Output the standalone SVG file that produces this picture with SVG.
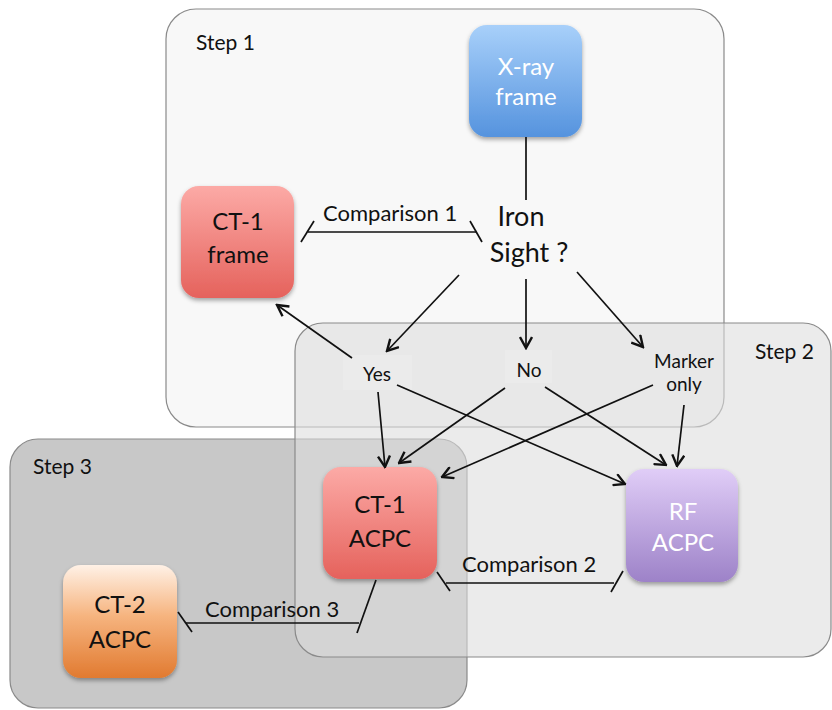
<svg xmlns="http://www.w3.org/2000/svg" width="832" height="710" viewBox="0 0 832 710">
<defs>
<style>
.step{stroke:#8a8a8a;stroke-width:1.2}
.lbl{font-family:Lato,"Open Sans","Liberation Sans",sans-serif;fill:#111}
.nd{font-family:Lato,"Open Sans","Liberation Sans",sans-serif;font-size:24px;text-anchor:middle}
.w{fill:#fff}
.k{fill:#111}
.ln{stroke:#111;stroke-width:1.7;fill:none}
.ar{marker-end:url(#arr)}
</style>
<marker id="arr" viewBox="0 0 14 14" markerWidth="14" markerHeight="14" refX="12.5" refY="7" orient="auto" markerUnits="userSpaceOnUse">
<path d="M1.5,1 L12.5,7 L1.5,13" fill="none" stroke="#111" stroke-width="2.4"/>
</marker>
<filter id="sh" x="-20%" y="-20%" width="140%" height="145%">
<feDropShadow dx="0" dy="2.5" stdDeviation="2.2" flood-color="#000" flood-opacity="0.35"/>
</filter>
<linearGradient id="gBlue" x1="0" y1="0" x2="0" y2="1"><stop offset="0" stop-color="#a8d0fa"/><stop offset="1" stop-color="#5593de"/></linearGradient>
<linearGradient id="gRed" x1="0" y1="0" x2="0" y2="1"><stop offset="0" stop-color="#fcaaa6"/><stop offset="1" stop-color="#e5625c"/></linearGradient>
<linearGradient id="gPur" x1="0" y1="0" x2="0" y2="1"><stop offset="0" stop-color="#e0cdf7"/><stop offset="1" stop-color="#9d82c8"/></linearGradient>
<linearGradient id="gOr" x1="0" y1="0" x2="0" y2="1"><stop offset="0" stop-color="#fff1e6"/><stop offset="0.45" stop-color="#f6b47f"/><stop offset="1" stop-color="#e17a30"/></linearGradient>
</defs>

<g id="step1">
<rect class="step" x="166" y="9" width="558" height="418" rx="30" fill="#f8f8f8"/>
<text class="lbl" x="196" y="50" font-size="21">Step 1</text>
</g>
<g id="step3">
<rect class="step" x="10" y="439" width="457" height="269" rx="28" fill="#c8c8c8"/>
<text class="lbl" x="33" y="474" font-size="21">Step 3</text>
</g>
<g id="step2">
<rect class="step" x="295" y="323" width="536" height="334" rx="28" fill="#dddddd" fill-opacity="0.58"/>
<text class="lbl" x="755" y="359" font-size="21">Step 2</text>
</g>

<g id="xray">
<rect x="469" y="25" width="113" height="112" rx="18" fill="url(#gBlue)" filter="url(#sh)"/>
<text class="nd w" x="526" y="75">X-ray</text>
<text class="nd w" x="526" y="105">frame</text>
</g>
<g id="ct1frame">
<rect x="181" y="186" width="113" height="112" rx="18" fill="url(#gRed)" filter="url(#sh)"/>
<text class="nd k" x="238" y="230">CT-1</text>
<text class="nd k" x="238" y="263">frame</text>
</g>
<g id="ironsight">
<text class="lbl" x="521" y="226" font-size="27" text-anchor="middle">Iron</text>
<text class="lbl" x="529" y="262" font-size="27" text-anchor="middle">Sight ?</text>
</g>
<g id="yes">
<rect x="343" y="355" width="69" height="35" fill="#ffffff" fill-opacity="0.15"/>
<text class="lbl" x="377" y="381" font-size="19" text-anchor="middle">Yes</text>
</g>
<g id="no">
<rect x="505" y="350" width="47" height="33" fill="#ffffff" fill-opacity="0.15"/>
<text class="lbl" x="529" y="377" font-size="19" text-anchor="middle">No</text>
</g>
<g id="marker">
<text class="lbl" x="684" y="368" font-size="19" text-anchor="middle">Marker</text>
<text class="lbl" x="684" y="391" font-size="19" text-anchor="middle">only</text>
</g>
<g id="ct1acpc">
<rect x="323" y="467" width="114" height="112" rx="18" fill="url(#gRed)" filter="url(#sh)"/>
<text class="nd k" x="380" y="513">CT-1</text>
<text class="nd k" x="380" y="547">ACPC</text>
</g>
<g id="rfacpc">
<rect x="626" y="469" width="112" height="113" rx="18" fill="url(#gPur)" filter="url(#sh)"/>
<text class="nd w" x="683" y="520">RF</text>
<text class="nd w" x="683" y="551">ACPC</text>
</g>
<g id="ct2acpc">
<rect x="63" y="565" width="114" height="113" rx="18" fill="url(#gOr)" filter="url(#sh)"/>
<text class="nd k" x="120" y="613">CT-2</text>
<text class="nd k" x="120" y="648">ACPC</text>
</g>

<g id="connectors">
<line class="ln" x1="526" y1="137" x2="526" y2="200"/>
<line class="ln" x1="308" y1="232" x2="476" y2="232"/>
<line class="ln" x1="301" y1="242" x2="314" y2="221"/>
<line class="ln" x1="470" y1="221" x2="482" y2="242"/>
<text class="lbl" x="323" y="221" font-size="22">Comparison 1</text>
<line class="ln ar" x1="459" y1="275" x2="387" y2="351"/>
<line class="ln ar" x1="526" y1="279" x2="526" y2="348"/>
<line class="ln ar" x1="577" y1="272" x2="643" y2="347"/>
<line class="ln ar" x1="352" y1="358" x2="277" y2="305"/>
<line class="ln ar" x1="378" y1="392" x2="385" y2="467"/>
<line class="ln ar" x1="397" y1="385" x2="625" y2="484"/>
<line class="ln ar" x1="505" y1="388" x2="399" y2="463"/>
<line class="ln ar" x1="545" y1="387" x2="666" y2="465"/>
<line class="ln ar" x1="653" y1="385" x2="442" y2="477"/>
<line class="ln ar" x1="684" y1="405" x2="677" y2="466"/>
<line class="ln" x1="446" y1="583" x2="614" y2="583"/>
<line class="ln" x1="437" y1="572" x2="450" y2="591"/>
<line class="ln" x1="611" y1="592" x2="623" y2="571"/>
<text class="lbl" x="462" y="572" font-size="22">Comparison 2</text>
<line class="ln" x1="186" y1="623" x2="359" y2="623"/>
<line class="ln" x1="178" y1="612" x2="192" y2="632"/>
<line class="ln" x1="376" y1="580" x2="357" y2="633"/>
<text class="lbl" x="205" y="617" font-size="22">Comparison 3</text>
</g>
</svg>
